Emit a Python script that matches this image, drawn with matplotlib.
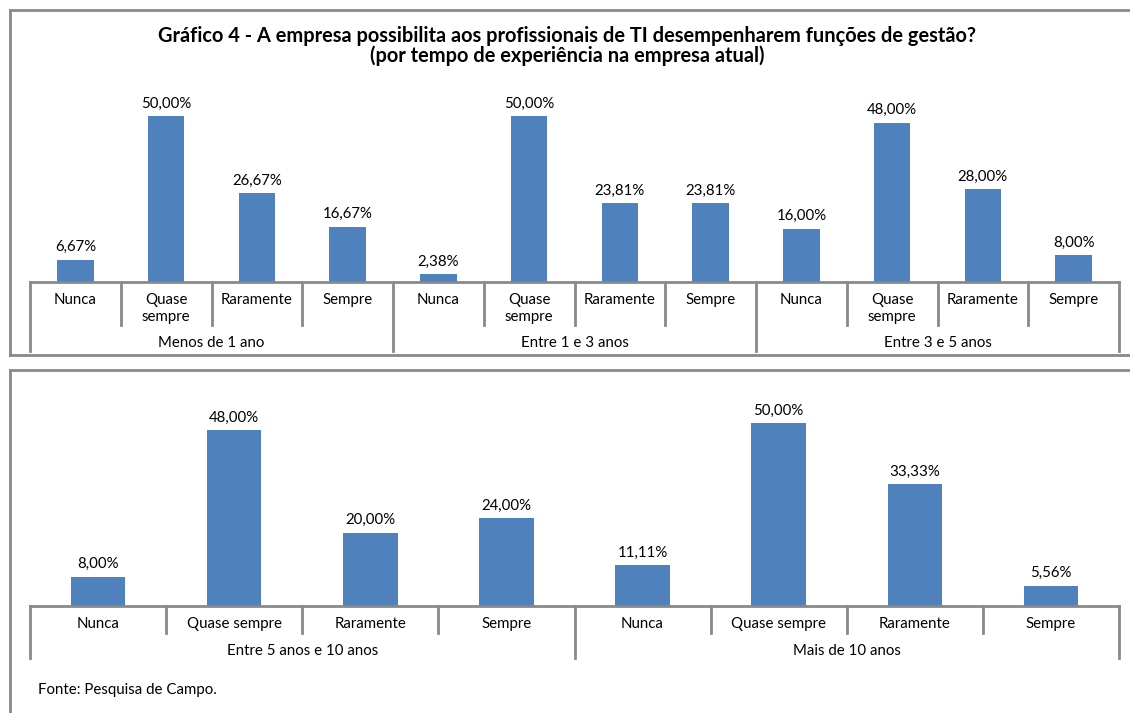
import matplotlib
matplotlib.use("Agg")
import matplotlib.pyplot as plt
from matplotlib.lines import Line2D
import numpy as np

plt.rcParams['font.family'] = ['Lato', 'DejaVu Sans']

W, H = 1130, 713

answers_top = ["Nunca", "Quase\nsempre", "Raramente", "Sempre"]
groups_top = ["Menos de 1 ano", "Entre 1 e 3 anos", "Entre 3 e 5 anos"]
values_top = [6.67, 50.00, 26.67, 16.67,
              2.38, 50.00, 23.81, 23.81,
              16.00, 48.00, 28.00, 8.00]

answers_bot = ["Nunca", "Quase sempre", "Raramente", "Sempre"]
groups_bot = ["Entre 5 anos e 10 anos", "Mais de 10 anos"]
values_bot = [8.00, 48.00, 20.00, 24.00,
              11.11, 50.00, 33.33, 5.56]

title = ("Gráfico 4 - A empresa possibilita aos profissionais de TI desempenharem funções de gestão?\n"
         "(por tempo de experiência na empresa atual)")

BAR = "#4F81BD"
GRAY = "#898989"
FS = 10.8

fig = plt.figure(figsize=(W / 100, H / 100), dpi=100)


def fy(py):
    return 1 - py / H


def fx(px):
    return px / W


def hline(x0, x1, y, lw=2):
    fig.add_artist(Line2D([fx(x0), fx(x1)], [fy(y), fy(y)], color=GRAY, lw=lw))


def vline(x, y0, y1, lw=2):
    fig.add_artist(Line2D([fx(x), fx(x)], [fy(y0), fy(y1)], color=GRAY, lw=lw))


# panel frames
hline(10, W + 5, 10)
vline(10, 10, 355)
hline(10, W + 5, 355)
hline(10, W + 5, 370)
vline(10, 370, H + 5)


def panel(values, answers, groups, base, top, ymax, tick_low, grp_low, lab_y, grp_y):
    left, right = 30, 1119
    ax = fig.add_axes([fx(left), fy(base), fx(right - left), fy(top) - fy(base)])
    n = len(values)
    x = np.arange(n)
    ax.bar(x, values, width=0.4, color=BAR)
    ax.set_xlim(-0.5, n - 0.5)
    ax.set_ylim(0, ymax)
    ax.axis("off")
    for xi, v in zip(x, values):
        ax.annotate(f"{v:.2f}%".replace(".", ","), (xi, v), xytext=(0, 4),
                    textcoords="offset points", ha="center", va="bottom", fontsize=FS)
    cw = (right - left) / n
    hline(left, right, base)
    k = len(answers)
    for i in range(n + 1):
        px = left + i * cw
        low = grp_low if i % k == 0 else tick_low
        vline(px, base, low)
    for i in range(n):
        cx = left + (i + 0.5) * cw
        fig.text(fx(cx), fy(lab_y), answers[i % k], ha="center", va="top",
                 fontsize=FS, linespacing=1.3)
    for g, name in enumerate(groups):
        cx = left + (g + 0.5) * k * cw
        fig.text(fx(cx), fy(grp_y), name, ha="center", va="center", fontsize=FS)
    return ax


# top panel: 50% -> 166 px
panel(values_top, answers_top, groups_top, base=282, top=60, ymax=222 / 3.32,
      tick_low=325, grp_low=351, lab_y=293, grp_y=343)
# bottom panel: 50% -> 183 px
panel(values_bot, answers_bot, groups_bot, base=606, top=400, ymax=206 / 3.66,
      tick_low=633, grp_low=658, lab_y=617, grp_y=651)

fig.text(fx(567), fy(46), title, ha="center", va="center", fontsize=14.4,
         fontweight="bold", linespacing=1.0)
fig.text(fx(38), fy(690), "Fonte: Pesquisa de Campo.", ha="left", va="center", fontsize=FS)

fig.savefig("out.png", dpi=100)
